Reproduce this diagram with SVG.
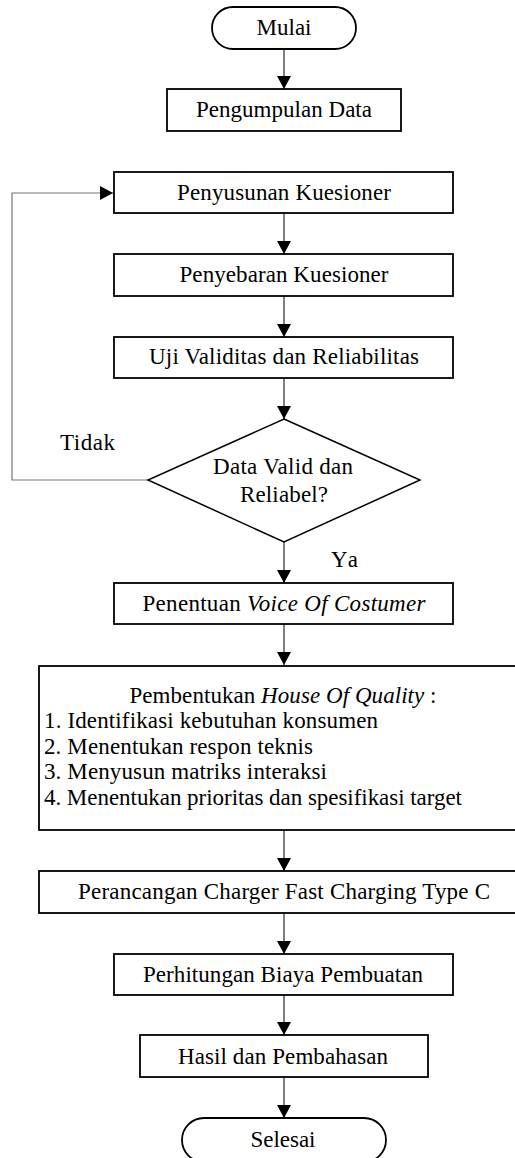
<svg xmlns="http://www.w3.org/2000/svg" width="515" height="1158" viewBox="0 0 515 1158">
<style>
.box{fill:#fff;stroke:#000;stroke-width:1.8}
.dia{fill:#fff;stroke:#000;stroke-width:1.5}
.t{font-family:"Liberation Serif","Times New Roman",serif;font-size:23px;fill:#000}
.c{text-anchor:middle}
.i{font-style:italic}
.ln{fill:none;stroke:#000;stroke-width:1}
.fb{fill:none;stroke:#777;stroke-width:1.2}
</style>
<defs>
<marker id="ah" markerUnits="userSpaceOnUse" markerWidth="14" markerHeight="14" viewBox="0 0 14 14" refX="13" refY="7" orient="auto">
<path d="M0,0 L13,7 L0,14 Z" fill="#000"/>
</marker>
</defs>
<g id="connectors">
<line class="ln" x1="284" y1="49" x2="284" y2="89" marker-end="url(#ah)"/>
<line class="ln" x1="284" y1="213" x2="284" y2="254" marker-end="url(#ah)"/>
<line class="ln" x1="284" y1="296" x2="284" y2="337" marker-end="url(#ah)"/>
<line class="ln" x1="284" y1="378" x2="284" y2="419" marker-end="url(#ah)"/>
<line class="ln" x1="284" y1="542" x2="284" y2="583" marker-end="url(#ah)"/>
<line class="ln" x1="284" y1="624" x2="284" y2="665" marker-end="url(#ah)"/>
<line class="ln" x1="284" y1="830" x2="284" y2="871" marker-end="url(#ah)"/>
<line class="ln" x1="284" y1="913" x2="284" y2="954" marker-end="url(#ah)"/>
<line class="ln" x1="284" y1="995" x2="284" y2="1035" marker-end="url(#ah)"/>
<line class="ln" x1="284" y1="1077" x2="284" y2="1118" marker-end="url(#ah)"/>
<polyline class="fb" points="148,480 12,480 12,193 113,193" marker-end="url(#ah)"/>
<text class="t" x="60" y="450" textLength="55">Tidak</text>
<text class="t" x="331" y="567" textLength="27">Ya</text>
</g>
<g id="mulai">
<rect class="box" x="212" y="7" width="144" height="42" rx="21" ry="21"/>
<text class="t c" x="284" y="35" textLength="55">Mulai</text>
</g>
<g id="pengumpulan">
<rect class="box" x="167" y="89" width="234" height="42"/>
<text class="t c" x="284" y="117" textLength="176">Pengumpulan Data</text>
</g>
<g id="penyusunan">
<rect class="box" x="114" y="172" width="339" height="41"/>
<text class="t c" x="284" y="200" textLength="214">Penyusunan Kuesioner</text>
</g>
<g id="penyebaran">
<rect class="box" x="114" y="254" width="339" height="42"/>
<text class="t c" x="284" y="282" textLength="209">Penyebaran Kuesioner</text>
</g>
<g id="uji">
<rect class="box" x="114" y="337" width="339" height="41"/>
<text class="t c" x="284" y="364" textLength="270">Uji Validitas dan Reliabilitas</text>
</g>
<g id="keputusan">
<polygon class="dia" points="284,419 420,480 284,542 148,480"/>
<text class="t c" x="283" y="474" textLength="140">Data Valid dan</text>
<text class="t c" x="284" y="502" textLength="88">Reliabel?</text>
</g>
<g id="voc">
<rect class="box" x="114" y="583" width="339" height="41"/>
<text class="t c" x="284" y="611" textLength="283">Penentuan <tspan class="i">Voice Of Costumer</tspan></text>
</g>
<g id="hoq">
<rect class="box" x="39" y="666" width="490" height="164"/>
<text class="t c" x="283" y="703" textLength="307">Pembentukan <tspan class="i">House Of Quality</tspan> :</text>
<text class="t" x="44" y="728" textLength="334">1. Identifikasi kebutuhan konsumen</text>
<text class="t" x="44" y="754" textLength="269">2. Menentukan respon teknis</text>
<text class="t" x="44" y="779" textLength="283">3. Menyusun matriks interaksi</text>
<text class="t" x="44" y="805" textLength="418">4. Menentukan prioritas dan spesifikasi target</text>
</g>
<g id="perancangan">
<rect class="box" x="39" y="871" width="490" height="42"/>
<text class="t c" x="284" y="899" textLength="412">Perancangan Charger Fast Charging Type C</text>
</g>
<g id="perhitungan">
<rect class="box" x="114" y="954" width="339" height="41"/>
<text class="t c" x="283" y="982" textLength="280">Perhitungan Biaya Pembuatan</text>
</g>
<g id="hasil">
<rect class="box" x="140" y="1035" width="288" height="42"/>
<text class="t c" x="283" y="1064" textLength="210">Hasil dan Pembahasan</text>
</g>
<g id="selesai">
<rect class="box" x="182" y="1118" width="204" height="44" rx="22" ry="22"/>
<text class="t c" x="283" y="1147" textLength="65">Selesai</text>
</g>
</svg>
